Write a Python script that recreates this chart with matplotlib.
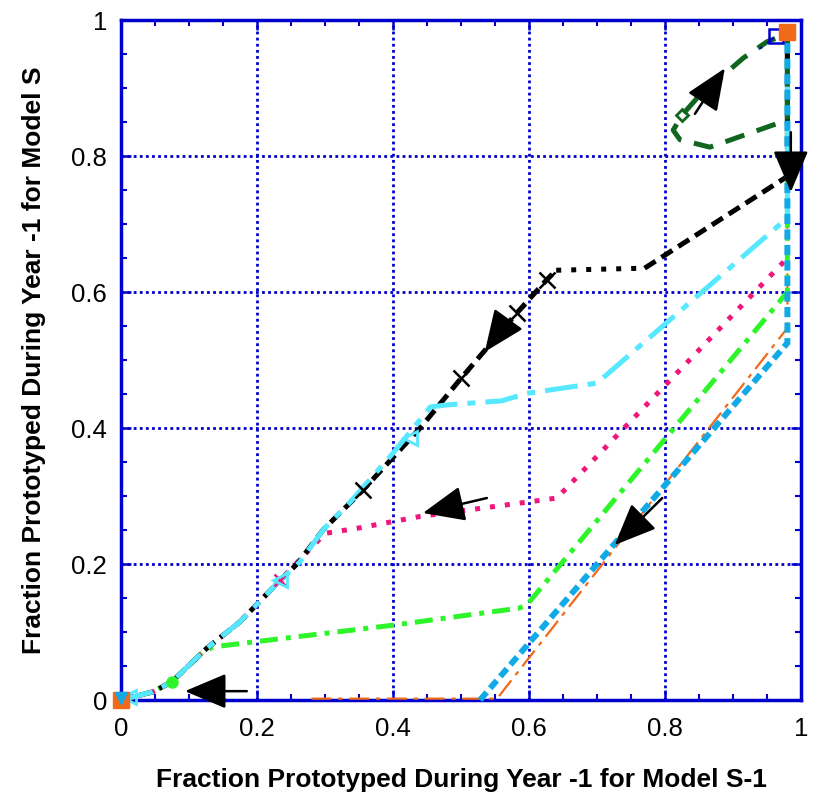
import matplotlib
matplotlib.use("Agg")
import matplotlib.pyplot as plt
from matplotlib.ticker import MultipleLocator

plt.rcParams['font.family'] = ['Liberation Sans', 'DejaVu Sans']

# ---- data ----
black_x = [0.0, 0.047, 0.075, 0.126, 0.175, 0.234, 0.259, 0.297, 0.356, 0.44, 0.50, 0.582, 0.626, 0.64]
black_y = [0.0, 0.012, 0.027, 0.076, 0.115, 0.176, 0.200, 0.250, 0.309, 0.40, 0.473, 0.569, 0.618, 0.632]
black_dot_x = [0.64, 0.77]
black_dot_y = [0.632, 0.635]
black2_x = [0.77, 0.98, 0.98]
black2_y = [0.635, 0.77, 0.98]
black_mark_x = [0.356, 0.50, 0.582, 0.626]
black_mark_y = [0.309, 0.473, 0.569, 0.618]

cyan_x = [0.0, 0.047, 0.075, 0.126, 0.175, 0.234, 0.263, 0.297, 0.337, 0.40, 0.455, 0.48, 0.56, 0.597, 0.70, 0.98, 0.98]
cyan_y = [0.0, 0.012, 0.027, 0.076, 0.115, 0.176, 0.203, 0.250, 0.291, 0.363, 0.431, 0.434, 0.44, 0.451, 0.466, 0.709, 0.98]
cyan_mark_x = [0.234, 0.425, 0.012]
cyan_mark_y = [0.176, 0.385, 0.004]

pink_x = [0.0, 0.047, 0.075, 0.126, 0.175, 0.234, 0.30, 0.35, 0.44, 0.597, 0.641, 0.98, 0.98]
pink_y = [0.0, 0.012, 0.027, 0.076, 0.115, 0.176, 0.245, 0.253, 0.27, 0.291, 0.297, 0.65, 0.98]
pink_mark_x = [0.234]
pink_mark_y = [0.176]

green_x = [0.0, 0.047, 0.075, 0.12, 0.135, 0.2, 0.4, 0.585, 0.597, 0.98, 0.98]
green_y = [0.0, 0.012, 0.027, 0.07, 0.078, 0.086, 0.11, 0.135, 0.14, 0.60, 0.98]
green_mark_x = [0.075]
green_mark_y = [0.027]

orange_x = [0.28, 0.553, 0.98, 0.98]
orange_y = [0.002, 0.002, 0.547, 0.98]
orange_mark_x = [0.0, 0.98]
orange_mark_y = [0.0, 0.982]

blue_x = [0.528, 0.98, 0.98]
blue_y = [0.0, 0.525, 0.98]
blue_mark_x = [0.0]
blue_mark_y = [0.003]

dgreen_x = [0.98, 0.98, 0.866, 0.822, 0.812, 0.825, 0.847, 0.915, 0.95, 0.98]
dgreen_y = [0.98, 0.853, 0.813, 0.824, 0.838, 0.86, 0.885, 0.944, 0.968, 0.98]
dgreen_mark_x = [0.825]
dgreen_mark_y = [0.86]

navy_x = [0.98, 0.963, 0.94]
navy_y = [0.98, 0.976, 0.958]

# arrows: (tail_x, tail_y, head_x, head_y)
arrows = [
    (0.844, 0.862, 0.888, 0.929),
    (0.985, 0.835, 0.985, 0.747),
    (0.569, 0.559, 0.535, 0.512),
    (0.538, 0.297, 0.444, 0.275),
    (0.796, 0.297, 0.726, 0.228),
    (0.185, 0.013, 0.094, 0.013),
]

xticks = [0, 0.2, 0.4, 0.6, 0.8, 1]
yticks = [0, 0.2, 0.4, 0.6, 0.8, 1]
xtick_labels = ['0', '0.2', '0.4', '0.6', '0.8', '1']
ytick_labels = ['0', '0.2', '0.4', '0.6', '0.8', '1']
xlabel = 'Fraction Prototyped During Year -1 for Model S-1'
ylabel = 'Fraction Prototyped During Year -1 for Model S'

# ---- colours ----
C_AX = '#0000CC'
C_BLACK = '#000000'
C_CYAN = '#55E8FF'
C_PINK = '#F0167A'
C_GREEN = '#2EF52A'
C_ORANGE = '#F06A1A'
C_BLUE = '#12AAE6'
C_DGREEN = '#11661F'

fig = plt.figure(figsize=(8.21, 7.99), dpi=100)
ax = fig.add_axes([121/821, 1 - 700/799, 680/821, 680/799])

LW = 3.6
# lines
ax.plot(orange_x, orange_y, color=C_ORANGE, lw=1.6, ls=(0, (9, 3, 2, 3)), zorder=3, clip_on=False)
ax.plot(green_x, green_y, color=C_GREEN, lw=LW, ls=(0, (3.6, 1.6, 1, 1.6)), zorder=4, clip_on=False)
ax.plot(pink_x, pink_y, color=C_PINK, lw=LW, ls=(0, (1, 2)), zorder=4, clip_on=False)
ax.plot(black_x, black_y, color=C_BLACK, lw=LW, ls=(0, (2.6, 1.4)), zorder=5, clip_on=False)
ax.plot(black_dot_x, black_dot_y, color=C_BLACK, lw=LW, ls=(0, (1, 2)), zorder=5)
ax.plot(black2_x, black2_y, color=C_BLACK, lw=LW, ls=(0, (2.6, 1.4)), zorder=5, clip_on=False)
ax.plot(cyan_x, cyan_y, color=C_CYAN, lw=LW, ls=(0, (6.6, 2, 1.6, 2)), zorder=5, clip_on=False)
ax.plot(blue_x, blue_y, color=C_BLUE, lw=4.3, ls=(0, (1.7, 0.9)), zorder=6, clip_on=False)
ax.plot(dgreen_x, dgreen_y, color=C_DGREEN, lw=LW, ls=(0, (4, 2.6)), zorder=5, clip_on=False)
ax.plot(navy_x, navy_y, color=C_AX, lw=1.5, ls=(0, (4, 3)), zorder=5, clip_on=False)

# markers
ax.plot(black_mark_x, black_mark_y, 'x', color=C_BLACK, ms=11, mew=1.8, zorder=7)
ax.plot(pink_mark_x, pink_mark_y, 'x', color=C_PINK, ms=9, mew=1.8, zorder=7)
ax.plot(cyan_mark_x, cyan_mark_y, '<', mfc='none', mec=C_CYAN, ms=10, mew=2, zorder=7, clip_on=False)
ax.plot(green_mark_x, green_mark_y, 'o', color=C_GREEN, ms=8, zorder=7)
ax.plot(dgreen_mark_x, dgreen_mark_y, 'D', mfc='none', mec=C_DGREEN, ms=6, mew=2, zorder=7)
ax.plot(navy_x[1:2], navy_y[1:2], 's', mfc='none', mec=C_AX, ms=10, mew=1.8, zorder=7, clip_on=False)
ax.plot(orange_mark_x, orange_mark_y, 's', color=C_ORANGE, ms=11, zorder=8, clip_on=False)
ax.plot(blue_mark_x, blue_mark_y, 'v', color=C_BLUE, ms=9, zorder=9, clip_on=False)

# arrows
for tx, ty, hx, hy in arrows:
    ax.annotate('', xy=(hx, hy), xytext=(tx, ty),
                arrowprops=dict(arrowstyle='-|>,head_length=1.3,head_width=0.55',
                                color='k', lw=1.8, mutation_scale=20,
                                shrinkA=0, shrinkB=0),
                zorder=10, annotation_clip=False)

ax.set_xlim(0, 1)
ax.set_ylim(0, 1)
ax.set_xticks(xticks)
ax.set_xticklabels(xtick_labels)
ax.set_yticks(yticks)
ax.set_yticklabels(ytick_labels)
ax.xaxis.set_minor_locator(MultipleLocator(0.05))
ax.yaxis.set_minor_locator(MultipleLocator(0.05))
ax.tick_params(which='both', direction='in', top=True, right=True, color=C_AX,
               labelcolor='black', labelsize=18.5)
ax.tick_params(which='major', length=7, width=1.8)
ax.tick_params(which='minor', length=4, width=1.5)
ax.tick_params(axis='x', which='major', pad=12)
ax.tick_params(axis='y', which='major', pad=10)

for s in ax.spines.values():
    s.set_color(C_AX)
    s.set_linewidth(2.5)

ax.grid(True, which='major', color=C_AX, ls=(0, (1, 1.2)), lw=2.0)
ax.set_axisbelow(True)

ax.set_xlabel(xlabel, fontsize=19, fontweight='bold', labelpad=20)
ax.set_ylabel(ylabel, fontsize=19, fontweight='bold', labelpad=18)

fig.savefig('out.png', dpi=100)
